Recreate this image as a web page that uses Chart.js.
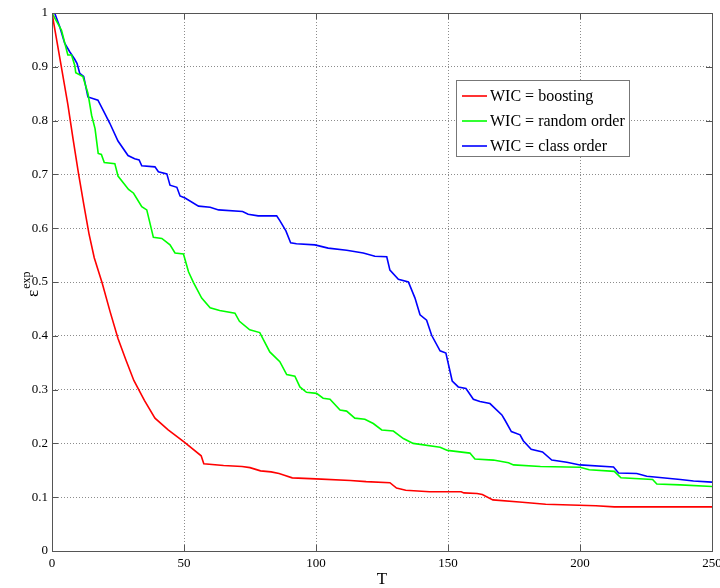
<!DOCTYPE html>
<html>
<head>
<meta charset="utf-8">
<script src="https://cdn.jsdelivr.net/npm/chart.js@4/dist/chart.umd.min.js"></script>
<style>
  body { margin: 0; background: #fff; }
  canvas { display: block; }
</style>
</head>
<body>
<canvas id="chart" width="720" height="588"></canvas>
<script>
// series labels
const seriesLabels = ['WIC = boosting', 'WIC = random order', 'WIC = class order']

// WIC = boosting
const boostT = [0, 3, 6, 8, 10, 12, 14, 16, 19, 22, 25, 28, 31, 35, 39, 44, 50, 56.5, 57.5, 65, 72, 75, 79, 83, 86, 88, 91, 100, 113, 119, 128, 130.5, 134, 143, 155, 156, 161, 163, 167, 177, 187, 206, 213, 250]
const boostErr = [1, 0.915, 0.83, 0.765, 0.703, 0.645, 0.59, 0.545, 0.498, 0.445, 0.395, 0.355, 0.317, 0.28, 0.247, 0.225, 0.203, 0.177, 0.162, 0.159, 0.157, 0.155, 0.149, 0.147, 0.144, 0.141, 0.136, 0.134, 0.131, 0.129, 0.127, 0.117, 0.113, 0.11, 0.11, 0.108, 0.107, 0.105, 0.095, 0.091, 0.087, 0.084, 0.082, 0.082]

// WIC = random order
const randomT = [0, 3.6, 6, 7.4, 8.6, 9, 11.7, 13.6, 15, 16.3, 17.5, 18.7, 19.8, 23.8, 25, 29, 30.9, 34, 35.9, 38.4, 41.6, 44.7, 46.6, 49.8, 51.7, 53.6, 56.7, 59.9, 63.5, 69.3, 71, 74.9, 78.7, 82.5, 86.3, 88.9, 92, 93.9, 96.4, 100.2, 102.7, 105.3, 109.1, 111.6, 114.7, 118.5, 121.7, 124.9, 129.3, 133.1, 136.8, 147, 149.8, 158.3, 160.2, 167.2, 172.9, 174.8, 185, 200, 203.5, 213, 215.5, 227.5, 229.1, 238, 250]
const randomErr = [1, 0.968, 0.922, 0.922, 0.903, 0.889, 0.882, 0.851, 0.81, 0.785, 0.739, 0.737, 0.722, 0.72, 0.697, 0.672, 0.665, 0.64, 0.634, 0.583, 0.581, 0.569, 0.554, 0.552, 0.519, 0.499, 0.47, 0.452, 0.447, 0.442, 0.427, 0.411, 0.406, 0.37, 0.352, 0.328, 0.325, 0.305, 0.295, 0.293, 0.284, 0.282, 0.262, 0.26, 0.247, 0.245, 0.237, 0.225, 0.223, 0.209, 0.2, 0.193, 0.187, 0.182, 0.171, 0.169, 0.164, 0.16, 0.157, 0.1556, 0.151, 0.148, 0.136, 0.133, 0.1245, 0.123, 0.12]

// WIC = class order
const classT = [0, 1, 2.9, 4.8, 6.7, 8.6, 9.5, 10.5, 12, 12.8, 13.6, 17.4, 19.5, 21.9, 25, 28.8, 31.3, 33, 34, 39, 40.3, 43.5, 44.7, 47.3, 48.5, 50.4, 55.5, 59.9, 63.1, 72.2, 74.3, 78.1, 85.1, 86.3, 88.6, 90.4, 92.6, 99.6, 104.6, 111.6, 117.9, 122.3, 126.8, 128, 131.2, 135, 137.5, 139.4, 141.9, 143.8, 147, 149.2, 151.6, 153.9, 156.8, 159.6, 162.1, 165.9, 170.4, 171.6, 174, 177.3, 178.5, 181.5, 185.8, 189.3, 195, 200, 212.7, 214.6, 221.5, 225.3, 238, 243, 250]
const classErr = [1, 1, 0.975, 0.944, 0.928, 0.914, 0.906, 0.888, 0.882, 0.863, 0.844, 0.838, 0.818, 0.795, 0.762, 0.735, 0.729, 0.727, 0.716, 0.714, 0.705, 0.701, 0.68, 0.676, 0.66, 0.656, 0.641, 0.639, 0.634, 0.631, 0.626, 0.623, 0.623, 0.614, 0.595, 0.573, 0.571, 0.569, 0.563, 0.559, 0.554, 0.548, 0.547, 0.522, 0.505, 0.5, 0.47, 0.439, 0.429, 0.401, 0.372, 0.368, 0.316, 0.305, 0.302, 0.282, 0.278, 0.274, 0.253, 0.243, 0.222, 0.216, 0.205, 0.189, 0.184, 0.169, 0.165, 0.16, 0.156, 0.145, 0.144, 0.139, 0.133, 0.13, 0.128]

const seriesColors = ['#ff0000', '#00ff00', '#0000ff']

const toPoints = (xs, ys) => xs.map((x, i) => ({ x: x, y: ys[i] }))

const serif = "'Liberation Serif', 'Times New Roman', serif"

// box around the plot with inward ticks, matlab style
const axesBox = {
    id: 'axesBox',
    afterDatasetsDraw(chart) {
        const { ctx, chartArea: a, scales } = chart
        ctx.save()
        ctx.strokeStyle = '#555'
        ctx.lineWidth = 1
        ctx.setLineDash([])
        ctx.strokeRect(Math.round(a.left) + 0.5, Math.round(a.top) + 0.5, Math.round(a.right - a.left), Math.round(a.bottom - a.top))
        ctx.beginPath()
        scales.y.ticks.forEach(t => {
            const y = Math.round(scales.y.getPixelForValue(t.value)) + 0.5
            ctx.moveTo(a.left, y); ctx.lineTo(a.left + 6, y)
            ctx.moveTo(a.right, y); ctx.lineTo(a.right - 6, y)
        })
        scales.x.ticks.forEach(t => {
            const x = Math.round(scales.x.getPixelForValue(t.value)) + 0.5
            ctx.moveTo(x, a.bottom); ctx.lineTo(x, a.bottom - 6)
            ctx.moveTo(x, a.top); ctx.lineTo(x, a.top + 6)
        })
        ctx.stroke()
        ctx.restore()
    }
}

// y axis label: epsilon with superscript "exp"
const yLabel = {
    id: 'yLabel',
    afterDraw(chart) {
        const { ctx } = chart
        ctx.save()
        ctx.translate(38, 283)
        ctx.rotate(-Math.PI / 2)
        ctx.fillStyle = '#000'
        ctx.textBaseline = 'alphabetic'
        ctx.textAlign = 'left'
        ctx.font = '17px ' + serif
        const w = ctx.measureText('\u03b5').width
        ctx.fillText('\u03b5', -14, 0)
        ctx.font = '12px ' + serif
        ctx.fillText('exp', -14 + w + 1, -8)
        ctx.restore()
    }
}

// legend box in the upper right
const boxLegend = {
    id: 'boxLegend',
    afterDraw(chart) {
        const { ctx } = chart
        const x = 456.5, y = 80.5, w = 173, h = 76
        ctx.save()
        ctx.fillStyle = '#fff'
        ctx.fillRect(x, y, w, h)
        ctx.strokeStyle = '#777'
        ctx.lineWidth = 1
        ctx.strokeRect(x, y, w, h)
        ctx.font = '16px ' + serif
        ctx.textBaseline = 'middle'
        ctx.fillStyle = '#000'
        chart.data.datasets.forEach((ds, i) => {
            const ry = 96 + i * 25
            ctx.strokeStyle = ds.borderColor
            ctx.lineWidth = 1.6
            ctx.beginPath()
            ctx.moveTo(462, ry); ctx.lineTo(487, ry)
            ctx.stroke()
            ctx.fillText(ds.label, 490, ry + 1)
        })
        ctx.restore()
    }
}

new Chart(document.getElementById('chart'), {
    type: 'line',
    data: {
        datasets: [
            { label: seriesLabels[0], data: toPoints(boostT, boostErr), borderColor: seriesColors[0] },
            { label: seriesLabels[1], data: toPoints(randomT, randomErr), borderColor: seriesColors[1] },
            { label: seriesLabels[2], data: toPoints(classT, classErr), borderColor: seriesColors[2] }
        ]
    },
    options: {
        responsive: false,
        animation: false,
        layout: { padding: { top: 13, right: 8, left: 0, bottom: 0 } },
        elements: {
            point: { radius: 0 },
            line: { borderWidth: 1.6, tension: 0, fill: false }
        },
        plugins: {
            legend: { display: false },
            tooltip: { enabled: false }
        },
        scales: {
            x: {
                type: 'linear',
                min: 0,
                max: 250,
                afterFit: s => { s.height = 37; s.paddingLeft = 0; s.paddingRight = 0 },
                ticks: { stepSize: 50, color: '#000', padding: 5, maxRotation: 0, font: { family: serif, size: 13 } },
                grid: { color: 'rgba(0,0,0,0.45)', drawTicks: false },
                border: { display: false, dash: [1, 2] },
                title: { display: true, text: 'T', color: '#000', padding: { top: 0, bottom: 0 }, font: { family: serif, size: 17, lineHeight: 1 } }
            },
            y: {
                min: 0,
                max: 1,
                afterFit: s => { s.width = 52; s.paddingTop = 0; s.paddingBottom = 0 },
                ticks: {
                    stepSize: 0.1,
                    color: '#000',
                    padding: 4,
                    font: { family: serif, size: 13 },
                    callback: v => String(Number(v.toFixed(1)))
                },
                grid: { color: 'rgba(0,0,0,0.45)', drawTicks: false },
                border: { display: false, dash: [1, 2] }
            }
        }
    },
    plugins: [axesBox, yLabel, boxLegend]
})
</script>
</body>
</html>
